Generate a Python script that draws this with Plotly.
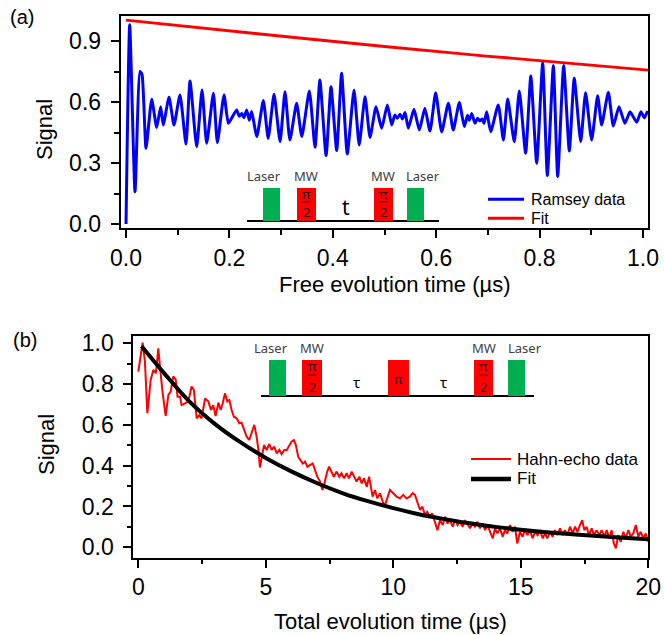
import plotly.graph_objects as go

W, H = 664, 635
FONT = "Liberation Sans, Arial, sans-serif"
INSET_FONT = "Noto Sans, Open Sans, sans-serif"

# ---------------- Data: (a) Ramsey ----------------
ramsey_t = [0.0, 0.0071, 0.0174, 0.027, 0.031, 0.0387, 0.0497, 0.0593, 0.067, 0.072,
            0.0832, 0.0928, 0.1044, 0.116, 0.1238, 0.1367, 0.147, 0.156, 0.169, 0.1767,
            0.1896, 0.198, 0.2077, 0.214, 0.219, 0.224, 0.228, 0.2334, 0.2385, 0.243,
            0.253, 0.2656, 0.275, 0.2863, 0.298, 0.3075, 0.317, 0.330, 0.340, 0.3546,
            0.3656, 0.375, 0.387, 0.3965, 0.4075, 0.417, 0.428, 0.441, 0.451, 0.4623,
            0.472, 0.4836, 0.4945, 0.5055, 0.514, 0.520, 0.5245, 0.530, 0.5345, 0.5397,
            0.546, 0.557, 0.5674, 0.578, 0.588, 0.599, 0.6106, 0.6235, 0.633, 0.6447,
            0.6544, 0.6605, 0.664, 0.6687, 0.675, 0.680, 0.6847, 0.689, 0.6925, 0.6977,
            0.7054, 0.720, 0.730, 0.7383, 0.751, 0.7608, 0.773, 0.783, 0.7944, 0.806,
            0.815, 0.8266, 0.835, 0.8466, 0.8575, 0.867, 0.8795, 0.889, 0.9007, 0.9123,
            0.920, 0.933, 0.9426, 0.9536, 0.965, 0.975, 0.9878, 0.996, 1.0026, 1.009]
ramsey_v = [0.0, 0.98, 0.159, 0.75, 0.735, 0.372, 0.613, 0.475, 0.577, 0.487,
            0.623, 0.487, 0.635, 0.393, 0.703, 0.380, 0.659, 0.397, 0.643, 0.400,
            0.635, 0.495, 0.536, 0.561, 0.530, 0.543, 0.523, 0.561, 0.510, 0.553,
            0.430, 0.607, 0.421, 0.638, 0.405, 0.651, 0.413, 0.594, 0.430, 0.654,
            0.377, 0.708, 0.336, 0.675, 0.361, 0.741, 0.344, 0.659, 0.389, 0.626,
            0.426, 0.577, 0.471, 0.585, 0.487, 0.536, 0.520, 0.540, 0.517, 0.548,
            0.471, 0.564, 0.462, 0.569, 0.457, 0.646, 0.453, 0.594, 0.462, 0.597,
            0.479, 0.535, 0.510, 0.544, 0.495, 0.520, 0.507, 0.517, 0.495, 0.552,
            0.454, 0.585, 0.413, 0.615, 0.405, 0.654, 0.348, 0.728, 0.299, 0.793,
            0.238, 0.779, 0.233, 0.779, 0.359, 0.717, 0.405, 0.646, 0.413, 0.631,
            0.487, 0.648, 0.482, 0.577, 0.495, 0.552, 0.500, 0.552, 0.523, 0.556]
ramsey_fit_t = [0.0, 0.25, 0.5, 0.6557, 0.75, 1.0097]
ramsey_fit_v = [1.003, 0.937, 0.873, 0.835, 0.815, 0.757]

# ---------------- Data: (b) Hahn echo ----------------
echo_t = [0.0, 0.067, 0.17, 0.26, 0.355, 0.485, 0.59, 0.69, 0.785, 0.85,
          0.94, 1.073, 1.18, 1.27, 1.37, 1.465, 1.54, 1.635, 1.70, 1.83,
          1.96, 2.09, 2.18, 2.29, 2.39, 2.48, 2.62, 2.75, 2.85, 2.94,
          3.03, 3.14, 3.23, 3.31, 3.40, 3.49, 3.57, 3.66, 3.75, 3.86,
          3.96, 4.05, 4.16, 4.25, 4.35, 4.45, 4.55, 4.64, 4.71, 4.77,
          4.84, 4.93, 5.03, 5.14, 5.23, 5.33, 5.43, 5.53, 5.62, 5.73,
          5.82, 5.92, 6.01, 6.10, 6.18, 6.27, 6.37, 6.45, 6.54, 6.63,
          6.73, 6.84, 6.93, 7.02, 7.13, 7.22, 7.30, 7.39, 7.48, 7.58,
          7.67, 7.78, 7.88, 7.97, 8.07, 8.17, 8.26, 8.37, 8.46, 8.56,
          8.67, 8.76, 8.85, 8.96, 9.05, 9.11, 9.19, 9.28, 9.37, 9.48,
          9.57, 9.65, 9.74, 9.87, 10.0, 10.13, 10.26, 10.39, 10.52, 10.65,
          10.76, 10.85, 10.96, 11.05, 11.14, 11.24, 11.33, 11.44, 11.53, 11.64,
          11.73, 11.83, 11.94, 12.03, 12.12, 12.22, 12.33, 12.42, 12.52, 12.61,
          12.72, 12.81, 12.90, 13.01, 13.11, 13.20, 13.30, 13.40, 13.50, 13.60,
          13.69, 13.79, 13.90, 13.99, 14.08, 14.18, 14.29, 14.38, 14.47, 14.58,
          14.68, 14.77, 14.86, 14.97, 15.07, 15.16, 15.26, 15.36, 15.46, 15.56,
          15.66, 15.75, 15.86, 15.95, 16.04, 16.14, 16.25, 16.34, 16.43, 16.54,
          16.64, 16.73, 16.83, 16.93, 17.03, 17.13, 17.22, 17.32, 17.41, 17.49,
          17.58, 17.67, 17.78, 17.87, 17.97, 18.08, 18.17, 18.28, 18.37, 18.47,
          18.56, 18.65, 18.73, 18.82, 18.92, 19.02, 19.11, 19.22, 19.31, 19.41,
          19.51, 19.61, 19.70, 19.81, 19.90, 20.0]
echo_v = [0.861, 0.918, 1.003, 0.910, 0.657, 0.820, 0.869, 0.853, 0.975, 0.886,
          0.771, 0.644, 0.747, 0.763, 0.837, 0.823, 0.738, 0.738, 0.697, 0.705,
          0.714, 0.788, 0.771, 0.632, 0.648, 0.632, 0.730, 0.714, 0.673, 0.697,
          0.643, 0.709, 0.673, 0.705, 0.755, 0.714, 0.722, 0.673, 0.640, 0.632,
          0.608, 0.611, 0.575, 0.542, 0.526, 0.559, 0.600, 0.542, 0.477, 0.391,
          0.436, 0.501, 0.477, 0.506, 0.477, 0.493, 0.460, 0.477, 0.457, 0.477,
          0.477, 0.501, 0.518, 0.526, 0.501, 0.444, 0.428, 0.411, 0.420, 0.395,
          0.403, 0.411, 0.379, 0.346, 0.322, 0.281, 0.313, 0.363, 0.395, 0.371,
          0.346, 0.371, 0.346, 0.363, 0.338, 0.363, 0.338, 0.371, 0.346, 0.322,
          0.346, 0.313, 0.338, 0.297, 0.346, 0.297, 0.248, 0.281, 0.240, 0.265,
          0.232, 0.199, 0.232, 0.281, 0.265, 0.248, 0.240, 0.257, 0.240, 0.248,
          0.265, 0.257, 0.216, 0.183, 0.199, 0.158, 0.174, 0.150, 0.166, 0.125,
          0.084, 0.133, 0.109, 0.150, 0.117, 0.133, 0.101, 0.133, 0.109, 0.125,
          0.101, 0.133, 0.117, 0.093, 0.117, 0.101, 0.125, 0.093, 0.117, 0.084,
          0.109, 0.076, 0.044, 0.093, 0.068, 0.093, 0.052, 0.084, 0.068, 0.109,
          0.076, 0.101, 0.019, 0.076, 0.052, 0.084, 0.060, 0.084, 0.044, 0.076,
          0.060, 0.084, 0.044, 0.068, 0.044, 0.076, 0.052, 0.084, 0.060, 0.093,
          0.060, 0.084, 0.060, 0.101, 0.068, 0.101, 0.076, 0.109, 0.133, 0.084,
          0.101, 0.060, 0.093, 0.060, 0.084, 0.060, 0.084, 0.052, 0.084, 0.044,
          0.084, 0.019, -0.005, 0.060, 0.027, 0.076, 0.044, 0.084, 0.052, 0.068,
          0.109, 0.052, 0.076, 0.044, 0.068, 0.027]
echo_fit_t = [0.13, 1, 2, 3, 4, 5, 6, 7, 8, 9, 10, 11, 12, 13, 14, 15, 16, 17, 18, 19, 20]
echo_fit_v = [0.985, 0.855, 0.715, 0.605, 0.515, 0.438, 0.372, 0.315, 0.266, 0.226, 0.192,
              0.162, 0.138, 0.118, 0.100, 0.086, 0.074, 0.064, 0.055, 0.047, 0.040]

# ---------------- Layout geometry (pixels) ----------------
def px(x):
    return x / W

def py(y):
    return 1 - y / H

BLUE = "#0000ff"
RED = "#ff0000"
GREEN = "#00b050"

fig = go.Figure()

fig.add_trace(go.Scatter(x=ramsey_t, y=ramsey_v, mode="lines", name="Ramsey data",
                         line=dict(color=BLUE, width=3, shape="spline", smoothing=0.5),
                         xaxis="x", yaxis="y"))
fig.add_trace(go.Scatter(x=ramsey_fit_t, y=ramsey_fit_v, mode="lines", name="Fit",
                         line=dict(color=RED, width=2.8, shape="spline"),
                         xaxis="x", yaxis="y"))
fig.add_trace(go.Scatter(x=echo_t, y=echo_v, mode="lines", name="Hahn-echo data",
                         line=dict(color=RED, width=2), xaxis="x2", yaxis="y2"))
fig.add_trace(go.Scatter(x=echo_fit_t, y=echo_fit_v, mode="lines", name="Fit",
                         line=dict(color="#000000", width=4, shape="spline"),
                         xaxis="x2", yaxis="y2"))

TICK_SIZE = 23
axis_common = dict(showline=True, linecolor="black", linewidth=2, mirror=True,
                   ticks="outside", ticklen=8, tickwidth=1.5, tickcolor="black",
                   showgrid=False, zeroline=False, automargin=False,
                   tickfont=dict(family=FONT, size=TICK_SIZE, color="black"))

def minor(d):
    return dict(dtick=d, ticks="outside", ticklen=4.5, tickwidth=1.5,
                tickcolor="black", showgrid=False)

fig.update_layout(
    width=W, height=H, autosize=False,
    margin=dict(l=0, r=0, t=0, b=0, pad=0, autoexpand=False),
    paper_bgcolor="white", plot_bgcolor="white",
    font=dict(family=FONT, color="black"),
    showlegend=False,
    xaxis=dict(axis_common, domain=[px(120.7), px(648)], range=[-0.0103, 1.0097],
               tick0=0, dtick=0.2, tickformat=".1f", minor=minor(0.1), anchor="y"),
    yaxis=dict(axis_common, domain=[py(228), py(16)], range=[-0.0197, 1.023],
               tick0=0, dtick=0.3, tickformat=".1f", minor=minor(0.15), anchor="x",
               ticklabelstandoff=5),
    xaxis2=dict(axis_common, domain=[px(133.3), px(648.3)], range=[-0.196, 20],
                tick0=0, dtick=5, minor=minor(2.5), anchor="y2"),
    yaxis2=dict(axis_common, domain=[py(557.7), py(335.7)], range=[-0.051, 1.037],
                tick0=0, dtick=0.2, tickformat=".1f", minor=minor(0.1), anchor="x2",
                ticklabelstandoff=5),
)

annotations = []
shapes = []

def text(x, y, s, size, color="black", family=FONT, angle=0, anchor="center"):
    annotations.append(dict(x=px(x), y=py(y), xref="paper", yref="paper", text=s,
                            showarrow=False, xanchor=anchor, yanchor="middle",
                            textangle=angle, borderpad=0,
                            font=dict(family=family, size=size, color=color)))

def rect(x0, x1, y0, y1, color):
    shapes.append(dict(type="rect", xref="paper", yref="paper",
                       x0=px(x0), x1=px(x1), y0=py(y1), y1=py(y0),
                       fillcolor=color, line=dict(width=0), layer="above"))

def hline(x0, x1, y, width, color="black"):
    shapes.append(dict(type="line", xref="paper", yref="paper",
                       x0=px(x0), x1=px(x1), y0=py(y), y1=py(y),
                       line=dict(color=color, width=width), layer="above"))

# Axis titles and panel labels
text(395, 284, "Free evolution time (µs)", 22)
text(45, 130, "Signal", 22, angle=-90)
text(390, 621, "Total evolution time (µs)", 22)
text(46, 445, "Signal", 22, angle=-90)
text(22, 17, "(a)", 20)
text(25, 340, "(b)", 20)

# Legends (line sample + label)
legend_a = [("Ramsey data", BLUE, 3, 199.3), ("Fit", RED, 3, 218.3)]
for label, color, lw, yy in legend_a:
    hline(488, 524, yy, lw, color)
    text(530, yy, label, 16, anchor="left")
legend_b = [("Hahn-echo data", RED, 2, 459), ("Fit", "#000000", 4.5, 479)]
for label, color, lw, yy in legend_b:
    hline(471, 511, yy, lw, color)
    text(515.5, yy, label, 17, anchor="left")

# ---------------- Pulse sequence insets (decorations) ----------------
LABEL_C = "#404040"
PI_C = "#3a0000"

def half_pi(xc, ytop, ybase):
    h = ybase - ytop
    text(xc, ytop + 0.17 * h, "π", 13, PI_C, INSET_FONT)
    hline(xc - 4, xc + 4, ytop + 0.42 * h, 1, PI_C)
    text(xc, ytop + 0.74 * h, "2", 13, PI_C, INSET_FONT)

# (a) Ramsey sequence
a_base, a_top = 221, 188
hline(247, 439, a_base, 2)
rect(263, 280, a_top, a_base, GREEN)
rect(297, 316, a_top, a_base, RED)
rect(374, 393, a_top, a_base, RED)
rect(407, 424, a_top, a_base, GREEN)
half_pi(306.5, a_top, a_base)
half_pi(383.5, a_top, a_base)
text(346, 207, "t", 21, "black", INSET_FONT)
for xc, s in [(264, "Laser"), (306, "MW"), (383, "MW"), (423, "Laser")]:
    text(xc, 176, s, 13, LABEL_C, INSET_FONT)

# (b) Hahn-echo sequence
b_base, b_top = 396, 360
hline(261, 534, b_base, 2)
rect(269, 286, b_top, b_base, GREEN)
rect(302, 322, b_top, b_base, RED)
rect(388, 409, b_top, b_base, RED)
rect(474, 493, b_top, b_base, RED)
rect(508, 525, b_top, b_base, GREEN)
half_pi(312, b_top, b_base)
half_pi(483.5, b_top, b_base)
text(398.5, 378.5, "π", 13, PI_C, INSET_FONT)
text(356, 382, "τ", 15, "black", INSET_FONT)
text(443.5, 382, "τ", 15, "black", INSET_FONT)
for xc, s in [(271, "Laser"), (312, "MW"), (484, "MW"), (525, "Laser")]:
    text(xc, 348, s, 13, LABEL_C, INSET_FONT)

fig.update_layout(annotations=annotations, shapes=shapes)

fig.write_html("out.html",
               config={"displayModeBar": False},
               post_script="document.body.style.margin='0px';"
                           "document.body.style.overflow='hidden';")
